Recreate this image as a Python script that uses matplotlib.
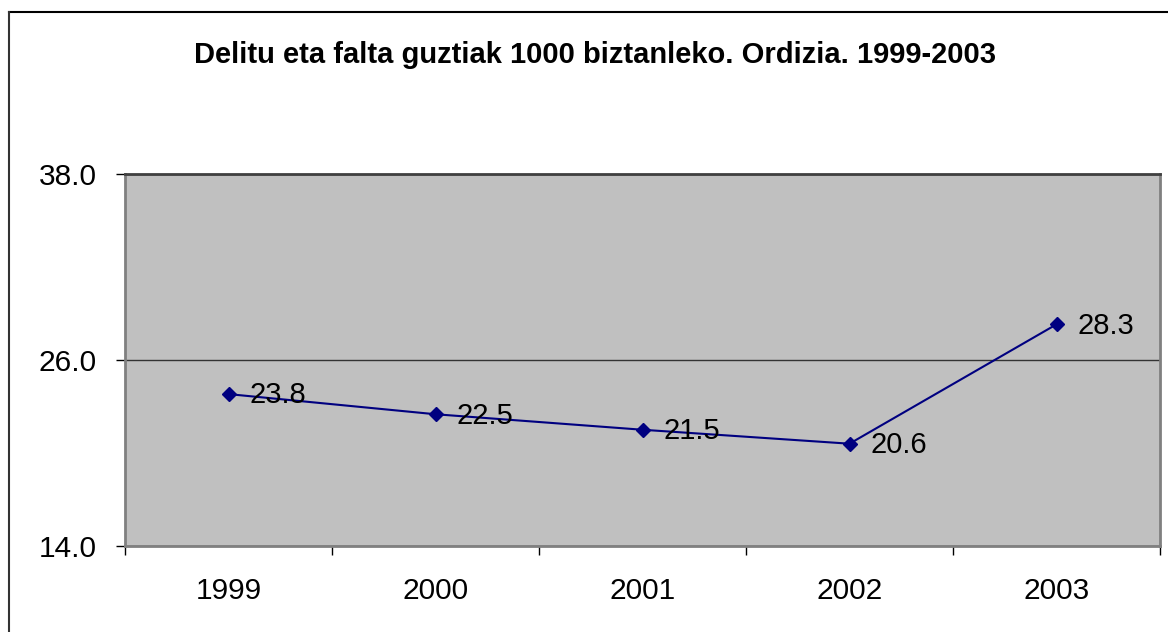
import matplotlib
matplotlib.use("Agg")
import numpy as np
from matplotlib import pyplot as plt
from matplotlib.lines import Line2D

plt.rcParams['font.family'] = ['Liberation Sans', 'DejaVu Sans']

years = ['1999', '2000', '2001', '2002', '2003']
values = [23.8, 22.5, 21.5, 20.6, 28.3]
yticks = [14.0, 26.0, 38.0]
title = 'Delitu eta falta guztiak 1000 biztanleko. Ordizia. 1999-2003'

fig = plt.figure(figsize=(11.68, 6.32), dpi=100)
ax = fig.add_axes([125/1168, 1 - 546/632, 1035/1168, 372/632])

x = np.arange(len(years))
ax.set_facecolor('#C0C0C0')
ax.plot(x, values, color='#000080', lw=1.5, marker='D', ms=7,
        mfc='#000080', mec='#000080', zorder=3)
for xi, v in zip(x, values):
    ax.annotate('%.1f' % v, (xi, v), xytext=(15, -1), textcoords='offset points',
                ha='left', va='center', fontsize=21, color='black', zorder=4)

ax.set_xlim(-0.5, len(years) - 0.5)
ax.set_ylim(14, 38)
ax.set_yticks(yticks)
ax.set_yticklabels(['%.1f' % t for t in yticks], fontsize=21.5)
ax.set_xticks(x)
ax.set_xticklabels(years, fontsize=21.5)
ax.set_xticks(np.arange(len(years) + 1) - 0.5, minor=True)
ax.tick_params(axis='x', which='major', length=0, pad=22)
ax.tick_params(axis='x', which='minor', length=6.5, width=1, color='black')
ax.tick_params(axis='y', length=6.5, width=1, color='black', pad=14)
ax.yaxis.grid(True, color='#333333', lw=1)
ax.set_axisbelow(True)

for s in ax.spines.values():
    s.set_color('#808080')
    s.set_linewidth(2)
ax.spines['top'].set_color('#404040')

fig.text(595/1168, 1 - 55/632, title, ha='center', va='center',
         fontsize=21, fontweight='bold')

# outer chart frame (top and left edges visible)
fig.add_artist(Line2D([9/1168, 1], [1 - 12/632, 1 - 12/632], color='black', lw=1.5,
                      transform=fig.transFigure))
fig.add_artist(Line2D([9/1168, 9/1168], [0, 1 - 12/632], color='#333333', lw=1.5,
                      transform=fig.transFigure))

fig.savefig('out.png', dpi=100)
